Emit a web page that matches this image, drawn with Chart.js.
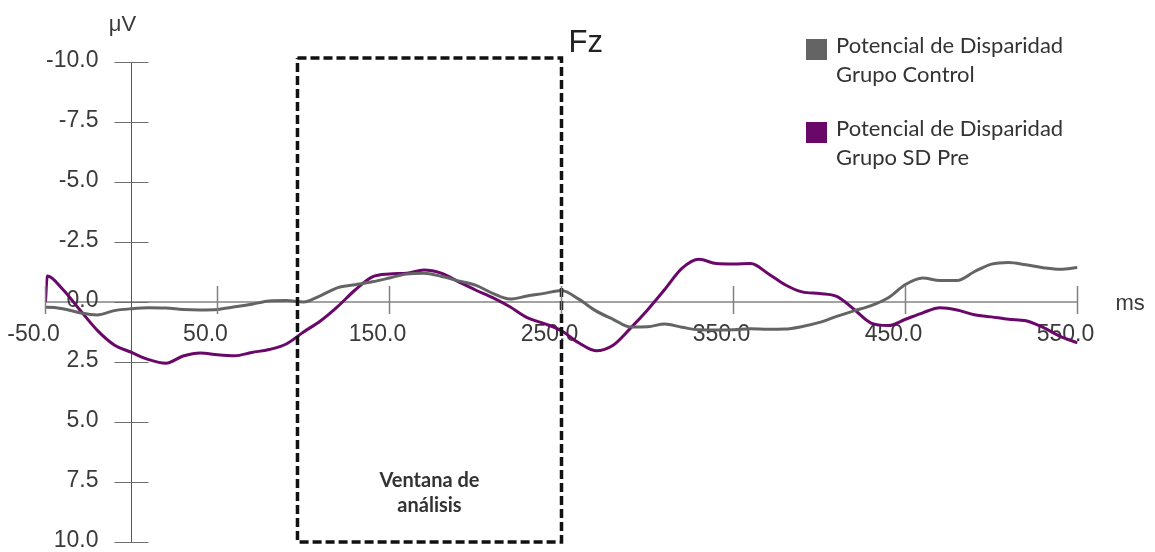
<!DOCTYPE html>
<html><head><meta charset="utf-8">
<script src="https://cdn.jsdelivr.net/npm/chart.js@4.4.0/dist/chart.umd.min.js"></script>
<style>html,body{margin:0;padding:0;background:#fff;overflow:hidden}#wrap{width:1155px;height:552px;position:relative}</style>
</head><body><div id="wrap"><canvas id="c" width="1155" height="552"></canvas></div>
<script>
// ---- data (ms, µV; negative plotted upward) ----
const times = [-50,-49,-40,-30,-20,-10,0,10,20,30,40,50,60,70,80,90,100,110,120,130,140,150,160,170,180,190,200,210,220,230,240,250,260,270,280,290,300,310,320,330,340,350,360,370,380,390,400,410,420,430,440,450,460,470,480,490,500,510,520,530,540,550];
const controlValues = [0.22,0.22,0.28,0.45,0.54,0.36,0.28,0.24,0.25,0.31,0.33,0.31,0.2,0.09,-0.04,-0.06,0.0,-0.27,-0.6,-0.72,-0.84,-1.0,-1.17,-1.2,-1.07,-0.88,-0.7,-0.36,-0.12,-0.25,-0.36,-0.48,-0.12,0.37,0.72,1.04,1.03,0.92,1.05,1.16,1.17,1.16,1.11,1.14,1.13,1.02,0.85,0.6,0.37,0.15,-0.18,-0.73,-1.0,-0.9,-0.9,-1.26,-1.58,-1.65,-1.55,-1.43,-1.36,-1.44];
const sdPreValues = [0.0,-1.08,-0.53,0.33,1.17,1.79,2.1,2.4,2.55,2.25,2.12,2.2,2.24,2.1,1.98,1.75,1.25,0.78,0.18,-0.5,-1.05,-1.17,-1.2,-1.33,-1.2,-0.85,-0.5,-0.18,0.2,0.65,0.9,1.2,1.7,2.03,1.8,1.1,0.33,-0.52,-1.4,-1.78,-1.6,-1.58,-1.6,-1.19,-0.72,-0.42,-0.35,-0.23,0.3,0.88,0.98,0.72,0.45,0.24,0.33,0.53,0.62,0.72,0.78,1.06,1.43,1.7];
const xTickValues = [-50,50,150,250,350,450,550];
const yTickValues = [-10,-7.5,-5,-2.5,0,2.5,5,7.5,10];
const windowTimes = [96.5,250,250,96.5,96.5];
const windowValues = [-10.17,-10.17,10,10,-10.17];
const legendLines = [['Potencial de Disparidad','Grupo Control'],['Potencial de Disparidad','Grupo SD Pre']];
const windowLines = ['Ventana de','análisis'];
const electrode = 'Fz';
const yUnit = 'μV';
const xUnit = 'ms';

const GRAY = '#646464', PURPLE = '#6a086a';
const pts = (xs, ys) => xs.map((x, i) => ({x, y: ys[i]}));

// place the y axis (with its labels) at x = 0 ms
const yAtZero = {
  id: 'yAtZero',
  afterLayout(chart) {
    const s = chart.scales.y, px = chart.scales.x.getPixelForValue(0);
    s.left = 0; s.right = px; s.width = px;
  }
};

const decor = {
  id: 'decor',
  afterDatasetsDraw(chart) {
    const {ctx, scales: {x, y}} = chart;
    const x0 = x.getPixelForValue(0), y0 = y.getPixelForValue(0);
    ctx.save();
    // tick marks crossing the axes
    ctx.strokeStyle = '#6e6e6e'; ctx.lineWidth = 1;
    yTickValues.forEach(v => { const py = Math.round(y.getPixelForValue(v)) + 0.5; ctx.beginPath(); ctx.moveTo(x0 - 17, py); ctx.lineTo(x0 + 17, py); ctx.stroke(); });
    ctx.strokeStyle = '#808080'; ctx.lineWidth = 1.5;
    xTickValues.forEach(v => { const px = x.getPixelForValue(v); ctx.beginPath(); ctx.moveTo(px, y0 - 16); ctx.lineTo(px, y0 + 12); ctx.stroke(); });
    // axis units
    ctx.fillStyle = '#3a3a3a'; ctx.textBaseline = 'alphabetic';
    ctx.font = '22px "Liberation Sans", Arial, sans-serif';
    ctx.textAlign = 'center'; ctx.fillText(yUnit, x0 - 9, 31);
    ctx.textAlign = 'left'; ctx.fillText(xUnit, x.right + 38, y0 + 8);
    // electrode
    ctx.fillStyle = '#222'; ctx.font = '31px "Liberation Sans", Arial, sans-serif';
    ctx.fillText(electrode, x.getPixelForValue(250) + 7, 52);
    // window label
    const cx = (x.getPixelForValue(windowTimes[0]) + x.getPixelForValue(windowTimes[1])) / 2;
    ctx.fillStyle = '#333'; ctx.textAlign = 'center';
    ctx.font = 'bold 20px Lato, "Open Sans", sans-serif';
    ctx.fillText(windowLines[0], cx, 487);
    ctx.fillText(windowLines[1], cx, 512);
    // legend
    ctx.textAlign = 'left'; ctx.font = '22px Lato, "Open Sans", sans-serif';
    const tops = [39, 122];
    chart.data.datasets.slice(1).forEach((ds, i) => {
      ctx.fillStyle = ds.borderColor; ctx.fillRect(806, tops[i], 21, 21);
      ctx.fillStyle = '#333';
      legendLines[i].forEach((t, j) => ctx.fillText(t, 836, tops[i] + 14 + j * 29));
    });
    ctx.restore();
  }
};

new Chart(document.getElementById('c'), {
  type: 'line',
  data: { datasets: [
    { label: windowLines.join(' '), data: pts(windowTimes, windowValues), borderColor: '#111', borderWidth: 3.5, borderDash: [9, 4], pointRadius: 0, tension: 0, clip: false, fill: false },
    { label: legendLines[0].join(' '), data: pts(times, controlValues), borderColor: GRAY, borderWidth: 3, pointRadius: 0, cubicInterpolationMode: 'monotone', fill: false },
    { label: legendLines[1].join(' '), data: pts(times, sdPreValues), borderColor: PURPLE, borderWidth: 3, pointRadius: 0, cubicInterpolationMode: 'monotone', fill: false }
  ]},
  options: {
    responsive: false, animation: false, devicePixelRatio: 1,
    layout: { padding: { left: 45.5, right: 77.5, top: 62, bottom: 10 } },
    plugins: { legend: { display: false }, tooltip: { enabled: false }, title: { display: false } },
    scales: {
      x: {
        type: 'linear', position: { y: 0 }, min: -50, max: 550,
        afterBuildTicks: s => { s.ticks = xTickValues.map(v => ({ value: v })); },
        afterFit: s => { s.paddingLeft = 0; s.paddingRight = 0; },
        grid: { display: false, drawTicks: false },
        border: { display: true, color: '#a3a3a3', width: 2 },
        ticks: { autoSkip: false, maxRotation: 0, padding: 19, labelOffset: -12, color: '#3a3a3a',
          font: { family: '"Liberation Sans", Arial, sans-serif', size: 23 }, callback: v => Number(v).toFixed(1) }
      },
      y: {
        type: 'linear', position: 'left', reverse: true, min: -10, max: 10,
        afterBuildTicks: s => { s.ticks = yTickValues.map(v => ({ value: v })); },
        afterFit: s => { s.paddingTop = 0; s.paddingBottom = 0; s.width = 0; },
        grid: { display: false, drawTicks: false, drawOnChartArea: false },
        border: { display: true, color: '#555', width: 1 },
        ticks: { padding: 33, labelOffset: -1, color: '#3a3a3a', crossAlign: 'near',
          font: { family: '"Liberation Sans", Arial, sans-serif', size: 23 }, callback: v => Number(v).toFixed(1) }
      }
    }
  },
  plugins: [yAtZero, decor]
});
</script></body></html>
